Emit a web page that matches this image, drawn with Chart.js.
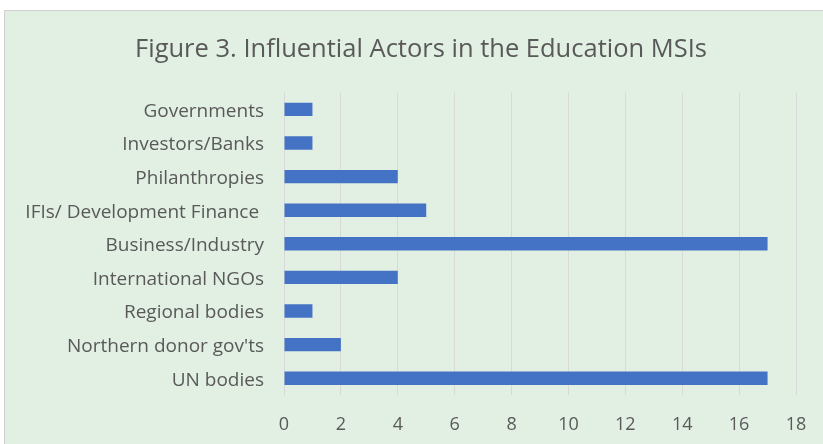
<!DOCTYPE html>
<html>
<head>
<meta charset="utf-8">
<script src="https://cdn.jsdelivr.net/npm/chart.js@4"></script>
<style>
  html, body { margin: 0; padding: 0; background: #ffffff; overflow: hidden; }
  #box { position: absolute; left: 4px; top: 10px; width: 840px; height: 440px;
         border: 1px solid #d0d0d0; background: #e2efe3; }
  #wrap { position: absolute; left: 0; top: 0; width: 832px; height: 434px; }
</style>
</head>
<body>
<div id="box"><div id="wrap"><canvas id="c"></canvas></div></div>
<script>
const categories = ["Governments", "Investors/Banks", "Philanthropies", "IFIs/ Development Finance ",
  "Business/Industry", "International NGOs", "Regional bodies", "Northern donor gov'ts", "UN bodies"];
const counts = [1, 1, 4, 5, 17, 4, 1, 2, 17];
const xTickMin = 0, xTickMax = 18, xTickStep = 2;
const titleText = "Figure 3. Influential Actors in the Education MSIs";

const FONT = "'Open Sans', sans-serif";
new Chart(document.getElementById('c'), {
  type: 'bar',
  data: {
    labels: categories,
    datasets: [{ data: counts, backgroundColor: '#4472C4', borderWidth: 0,
                 categoryPercentage: 0.4, barPercentage: 1.0 }]
  },
  options: {
    indexAxis: 'y',
    responsive: true,
    maintainAspectRatio: false,
    animation: false,
    layout: { padding: 0 },
    plugins: {
      legend: { display: false },
      tooltip: { enabled: false },
      title: { display: true, text: titleText, color: '#595959',
               font: { family: FONT, size: 25.5, weight: 'normal' },
               padding: { top: 23, bottom: 28 } }
    },
    scales: {
      x: {
        min: xTickMin, max: xTickMax,
        ticks: { stepSize: xTickStep, color: '#595959', padding: 19,
                 font: { family: FONT, size: 18 } },
        grid: { color: '#d9d9d9', drawTicks: false },
        border: { display: false },
        afterFit: (s) => { s.height = 50; }
      },
      y: {
        ticks: { color: '#595959', padding: 20, labelOffset: 2,
                 font: { family: FONT, size: 19 } },
        grid: { display: false, drawTicks: false },
        border: { display: true, color: '#d9d9d9' },
        afterFit: (s) => { s.width = 279; }
      },
      yRight: {
        type: 'linear', position: 'right', display: true,
        ticks: { display: false },
        grid: { display: false, drawTicks: false },
        border: { display: false },
        afterFit: (s) => { s.width = 41; }
      }
    }
  }
});
</script>
</body>
</html>
